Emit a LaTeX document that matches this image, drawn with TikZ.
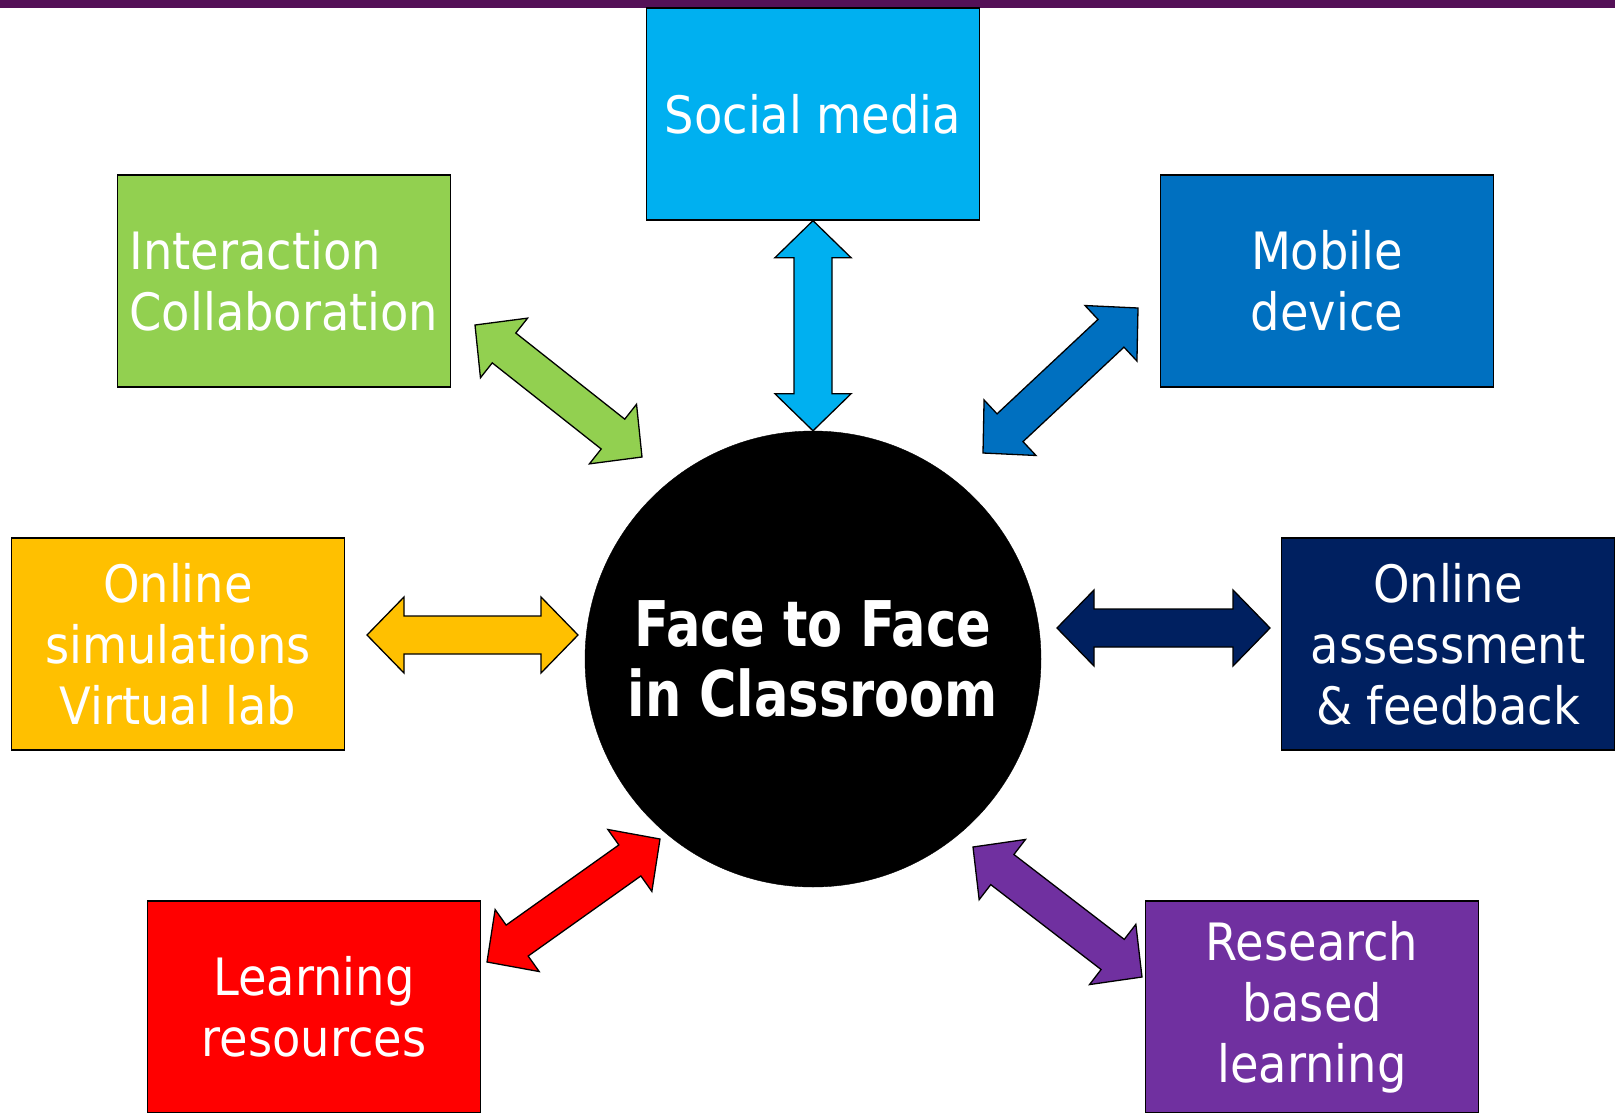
\documentclass[tikz,border=0pt]{standalone}
\usepackage{fontspec}
\setmainfont{DejaVu Sans Condensed}
\newfontfamily\hubfont[FakeStretch=0.9]{DejaVu Sans Condensed}
\usetikzlibrary{calc}
\definecolor{barpurple}{HTML}{541057}
\definecolor{skyblue}{HTML}{00B0F0}
\definecolor{leafgreen}{HTML}{92D050}
\definecolor{midblue}{HTML}{0070C0}
\definecolor{amber}{HTML}{FFC000}
\definecolor{navy}{HTML}{002060}
\definecolor{brightred}{HTML}{FF0000}
\definecolor{violet}{HTML}{7030A0}
\tikzset{topic node/.style={rectangle, draw=black, line width=1.3pt,
    minimum width=333pt, minimum height=212pt, inner sep=0pt,
    text=white, align=center, font=\fontsize{51.5}{61}\selectfont}}
\tikzset{hub node/.style={circle, draw=black, fill=black, minimum size=456pt,
    inner sep=0pt, text=white, align=center,
    font=\hubfont\bfseries\fontsize{63}{70}\selectfont}}
\tikzset{link arrow/.style={draw=black, line width=1.3pt, line join=miter}}
% two-headed block arrow between #2 and #3, filled with #1
\newcommand{\twoway}[3]{%
  \draw [link arrow, fill=#1] (#2)
    -- ($(#2)!37pt!(#3)!38pt!90:(#3)$) -- ($(#2)!37pt!(#3)!19pt!90:(#3)$)
    -- ($(#3)!37pt!(#2)!19pt!-90:(#2)$) -- ($(#3)!37pt!(#2)!38pt!-90:(#2)$)
    -- (#3)
    -- ($(#3)!37pt!(#2)!38pt!90:(#2)$) -- ($(#3)!37pt!(#2)!19pt!90:(#2)$)
    -- ($(#2)!37pt!(#3)!19pt!-90:(#3)$) -- ($(#2)!37pt!(#3)!38pt!-90:(#3)$)
    -- cycle;}

\begin{document}
\begin{tikzpicture}[x=1pt, y=-1pt]
  \useasboundingbox (0,0) rectangle (1615,1112);
  \fill [barpurple] (0,0) rectangle (1615,8);

  \node [hub node]               (hub)      at ( 813, 659) {Face to Face\\in Classroom};

  \node [topic node, fill=skyblue]   (social)   at ( 813, 114) {Social media};
  \node [topic node, fill=leafgreen, align=left] (collab) at ( 284, 281) {Interaction\\Collaboration};
  \node [topic node, fill=midblue]   (mobile)   at (1327, 281) {Mobile\\ device};
  \node [topic node, fill=amber]     (sims)     at ( 178, 644) {Online\\simulations\\Virtual lab};
  \node [topic node, fill=navy]      (assess)   at (1448, 644) {Online\\assessment\\\& feedback};
  \node [topic node, fill=brightred] (learning) at ( 314,1007) {Learning\\resources};
  \node [topic node, fill=violet]    (research) at (1312,1007) {Research\\based\\learning};

  \coordinate (collab a)   at ( 475, 325); \coordinate (collab b)   at ( 642, 457);
  \coordinate (mobile a)   at (1138, 308); \coordinate (mobile b)   at ( 983, 453);
  \coordinate (sims a)     at ( 367, 635); \coordinate (sims b)     at ( 578, 635);
  \coordinate (assess a)   at (1057, 628); \coordinate (assess b)   at (1270, 628);
  \coordinate (learning a) at ( 660, 839); \coordinate (learning b) at ( 487, 962);
  \coordinate (research a) at ( 973, 847); \coordinate (research b) at (1142, 977);

  \twoway{skyblue}{social.south}{hub.north}
  \twoway{leafgreen}{collab a}{collab b}
  \twoway{midblue}{mobile a}{mobile b}
  \twoway{amber}{sims a}{sims b}
  \twoway{navy}{assess a}{assess b}
  \twoway{brightred}{learning a}{learning b}
  \twoway{violet}{research a}{research b}
\end{tikzpicture}
\end{document}
